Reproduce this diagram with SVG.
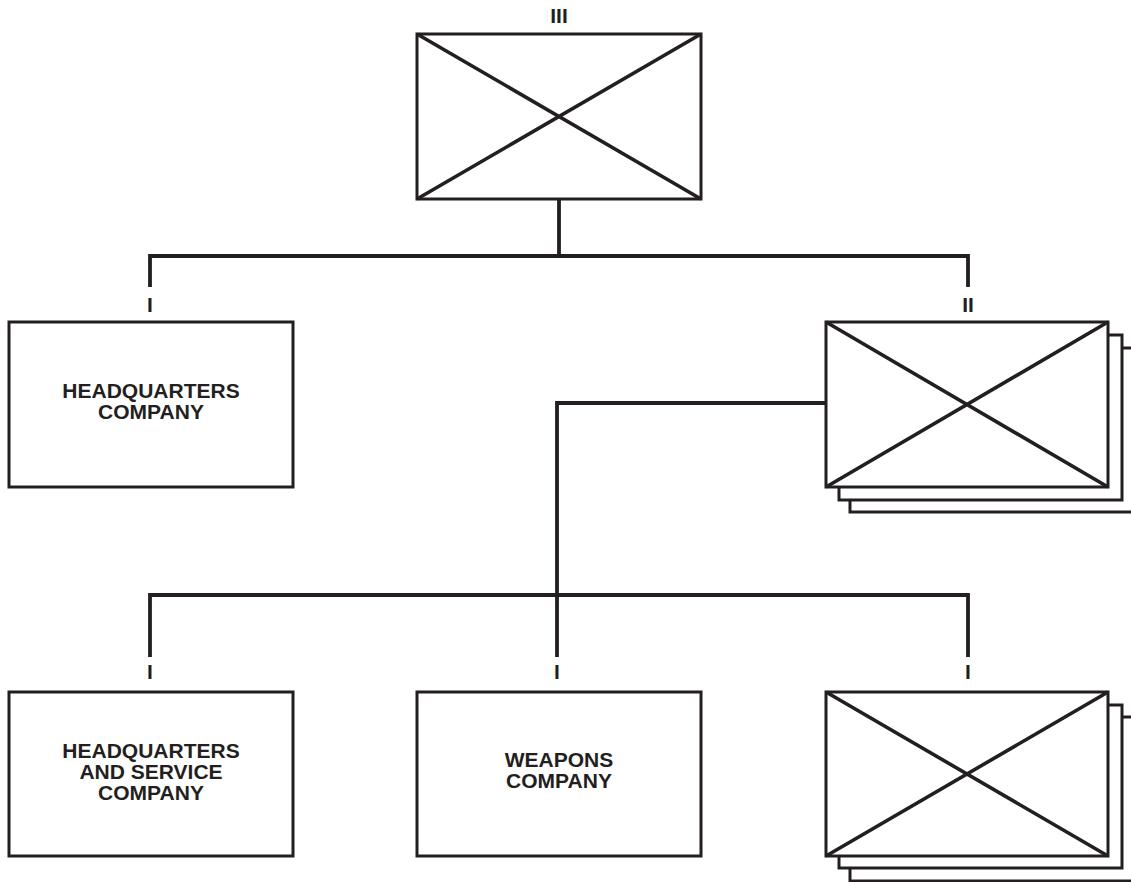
<svg xmlns="http://www.w3.org/2000/svg" width="1131" height="882" viewBox="0 0 1131 882">
<style>
.box{fill:#fff;stroke:#231f20;stroke-width:3}
.x{stroke:#231f20;stroke-width:3.6;fill:none}
.c{stroke:#231f20;stroke-width:3.8;fill:none;stroke-linecap:butt;stroke-linejoin:miter}
.t{font-family:"Liberation Sans",Arial,sans-serif;font-weight:bold;font-size:21px;fill:#231f20;text-anchor:middle}
</style>
<rect width="1131" height="882" fill="#fff"/>
<g id="connectors">
<polyline class="c" points="559,199 559,256"/>
<polyline class="c" points="150,287 150,256 968,256 968,287"/>
<polyline class="c" points="826,403 557,403 557,595"/>
<polyline class="c" points="150,657 150,595 968,595 968,657"/>
<polyline class="c" points="557,595 557,657"/>
</g>
<g id="regiment">
<text class="t" x="559" y="23">III</text>
<rect class="box" x="417" y="34" width="284" height="165"/>
<path class="x" d="M417,34 L701,199 M701,34 L417,199"/>
</g>
<g id="hq-company">
<text class="t" x="150" y="312">I</text>
<rect class="box" x="9" y="322" width="284" height="165"/>
<text class="t" x="151" y="398">HEADQUARTERS</text>
<text class="t" x="151" y="419">COMPANY</text>
</g>
<g id="battalion">
<text class="t" x="968" y="312">II</text>
<rect class="box" x="850" y="348" width="290" height="164"/>
<rect class="box" x="839" y="335" width="283" height="165"/>
<rect class="box" x="826" y="322" width="282" height="165"/>
<path class="x" d="M826,322 L1108,487 M1108,322 L826,487"/>
</g>
<g id="hs-company">
<text class="t" x="150" y="679">I</text>
<rect class="box" x="9" y="692" width="284" height="164"/>
<text class="t" x="151" y="758">HEADQUARTERS</text>
<text class="t" x="151" y="779">AND SERVICE</text>
<text class="t" x="151" y="800">COMPANY</text>
</g>
<g id="weapons-company">
<text class="t" x="557" y="679">I</text>
<rect class="box" x="417" y="692" width="284" height="164"/>
<text class="t" x="559" y="767">WEAPONS</text>
<text class="t" x="559" y="788">COMPANY</text>
</g>
<g id="rifle-companies">
<text class="t" x="968" y="679">I</text>
<rect class="box" x="850" y="717" width="290" height="164"/>
<rect class="box" x="839" y="705" width="283" height="163"/>
<rect class="box" x="826" y="692" width="282" height="164"/>
<path class="x" d="M826,692 L1108,856 M1108,692 L826,856"/>
</g>
</svg>
